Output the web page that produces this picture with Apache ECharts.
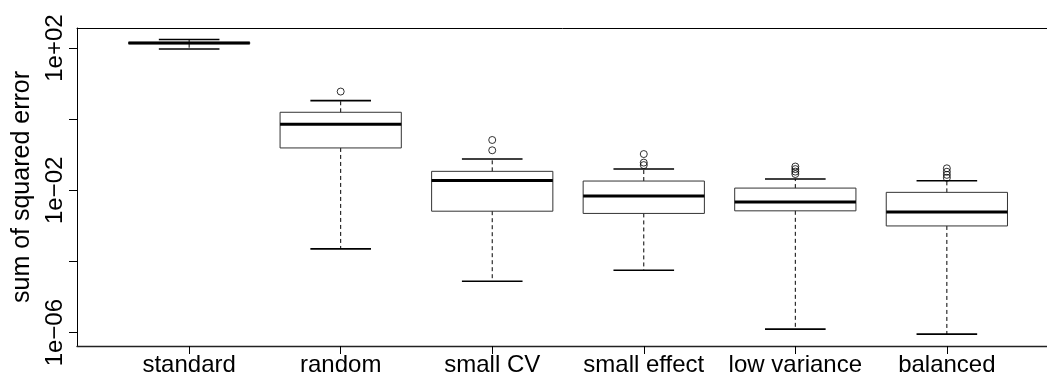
<!DOCTYPE html>
<html>
<head>
<meta charset="utf-8">
<script src="https://cdn.jsdelivr.net/npm/echarts@6/dist/echarts.min.js"></script>
<style>
html,body{margin:0;padding:0;background:#fff;}
#chart{width:1047px;height:376px;}
</style>
</head>
<body>
<div id="chart"></div>
<script>
// Categories
const categories = ['standard', 'random', 'small CV', 'small effect', 'low variance', 'balanced'];
// Box statistics (actual values): lower whisker, Q1, median, Q3, upper whisker
const lowerWhisker = [94.6, 2.26e-4, 2.8e-5, 5.7e-5, 1.26e-6, 9.1e-7];
const q1Values     = [133, 0.156, 2.6e-3, 2.25e-3, 2.66e-3, 1.0e-3];
const medianValues = [138, 0.72, 0.0191, 6.9e-3, 4.68e-3, 2.45e-3];
const q3Values     = [145, 1.57, 0.0343, 0.0183, 0.0116, 8.8e-3];
const upperWhisker = [175, 3.34, 0.0762, 0.0398, 0.0208, 0.0186];
// Outliers per category
const outliers = [
  [],
  [6.0],
  [0.134, 0.261],
  [0.0513, 0.0603, 0.105],
  [0.0288, 0.0337, 0.0397, 0.0468],
  [0.0226, 0.0273, 0.0334, 0.0417]
];
// Y-axis tick values (powers of ten, as exponents)
const yTickExponents = [-6, -4, -2, 0, 2];
const yLabelExponents = [-6, -2, 2];

const L = Math.log10;
const boxData = categories.map((c, i) => [i + 1, L(lowerWhisker[i]), L(q1Values[i]), L(medianValues[i]), L(q3Values[i]), L(upperWhisker[i])]);
const outlierData = [];
outliers.forEach((arr, i) => arr.forEach(v => outlierData.push([i + 1, L(v)])));

const FONT = "'Liberation Sans', Arial, Helvetica, sans-serif";

function renderItem(params, api) {
  const x = api.value(0);
  const lo = api.coord([x, api.value(1)]);
  const q1 = api.coord([x, api.value(2)]);
  const md = api.coord([x, api.value(3)]);
  const q3 = api.coord([x, api.value(4)]);
  const hi = api.coord([x, api.value(5)]);
  const unit = api.size([1, 0])[0];
  const bw = unit * 0.8 / 2;
  const sw = unit * 0.4 / 2;
  const cx = lo[0];
  const dashed = {stroke: '#000', lineWidth: 1, lineDash: [4, 3], fill: null};
  const cap = {stroke: '#000', lineWidth: 1.6, fill: null};
  return {
    type: 'group',
    children: [
      {type: 'line', shape: {x1: cx, y1: q3[1], x2: cx, y2: hi[1]}, style: dashed},
      {type: 'line', shape: {x1: cx, y1: q1[1], x2: cx, y2: lo[1]}, style: dashed},
      {type: 'line', shape: {x1: cx - sw, y1: hi[1], x2: cx + sw, y2: hi[1]}, style: cap},
      {type: 'line', shape: {x1: cx - sw, y1: lo[1], x2: cx + sw, y2: lo[1]}, style: cap},
      {type: 'rect', shape: {x: cx - bw, y: q3[1], width: 2 * bw, height: q1[1] - q3[1]}, style: {stroke: '#333', lineWidth: 1, fill: 'rgba(0,0,0,0)'}},
      {type: 'line', shape: {x1: cx - bw, y1: md[1], x2: cx + bw, y2: md[1]}, style: {stroke: '#000', lineWidth: 3}}
    ]
  };
}

function expLabel(v) {
  const e = Math.round(v);
  const sign = e >= 0 ? '+' : '\u2212';
  const a = Math.abs(e);
  return '1e' + sign + (a < 10 ? '0' + a : '' + a);
}

const xTicks = categories.map((c, i) => i + 1);

const chart = echarts.init(document.getElementById('chart'), null, {renderer: 'canvas'});
chart.setOption({
  animation: false,
  backgroundColor: '#fff',
  grid: {left: 77, right: -12, top: 28, bottom: 30, containLabel: false, outerBoundsMode: 'none', show: false},
  xAxis: [{
    type: 'value',
    position: 'bottom',
    min: 0.26,
    max: 6.74,
    splitLine: {show: false},
    axisLine: {show: true, onZero: false, lineStyle: {color: '#222', width: 1.3}},
    axisTick: {show: true, customValues: xTicks, length: 8, lineStyle: {color: '#000'}},
    axisLabel: {
      customValues: xTicks,
      formatter: v => categories[Math.round(v) - 1] || '',
      color: '#000', fontSize: 24, fontFamily: FONT, margin: 7
    }
  }, {
    type: 'value',
    position: 'top',
    min: 0.26,
    max: 6.74,
    splitLine: {show: false},
    axisLine: {show: true, onZero: false, lineStyle: {color: '#000', width: 1}},
    axisTick: {show: false},
    axisLabel: {show: false}
  }],
  yAxis: {
    type: 'value',
    min: -6.375,
    max: 2.565,
    name: 'sum of squared error',
    nameLocation: 'middle',
    nameRotate: 90,
    nameGap: 42,
    nameTextStyle: {color: '#000', fontSize: 25, fontFamily: FONT},
    splitLine: {show: false},
    axisLine: {show: true, onZero: false, lineStyle: {color: '#000', width: 1}},
    axisTick: {show: true, customValues: yTickExponents, length: 8, lineStyle: {color: '#000'}},
    axisLabel: {
      customValues: yLabelExponents,
      formatter: expLabel,
      rotate: 90,
      color: '#000', fontSize: 24, fontFamily: FONT, margin: 10
    }
  },
  series: [
    {
      type: 'custom',
      renderItem: renderItem,
      data: boxData,
      encode: {x: 0, y: [1, 2, 3, 4, 5]},
      clip: false
    },
    {
      type: 'scatter',
      data: outlierData,
      symbol: 'circle',
      symbolSize: 7,
      itemStyle: {color: 'rgba(0,0,0,0)', borderColor: '#000', borderWidth: 1},
      clip: false
    }
  ]
});
</script>
</body>
</html>
